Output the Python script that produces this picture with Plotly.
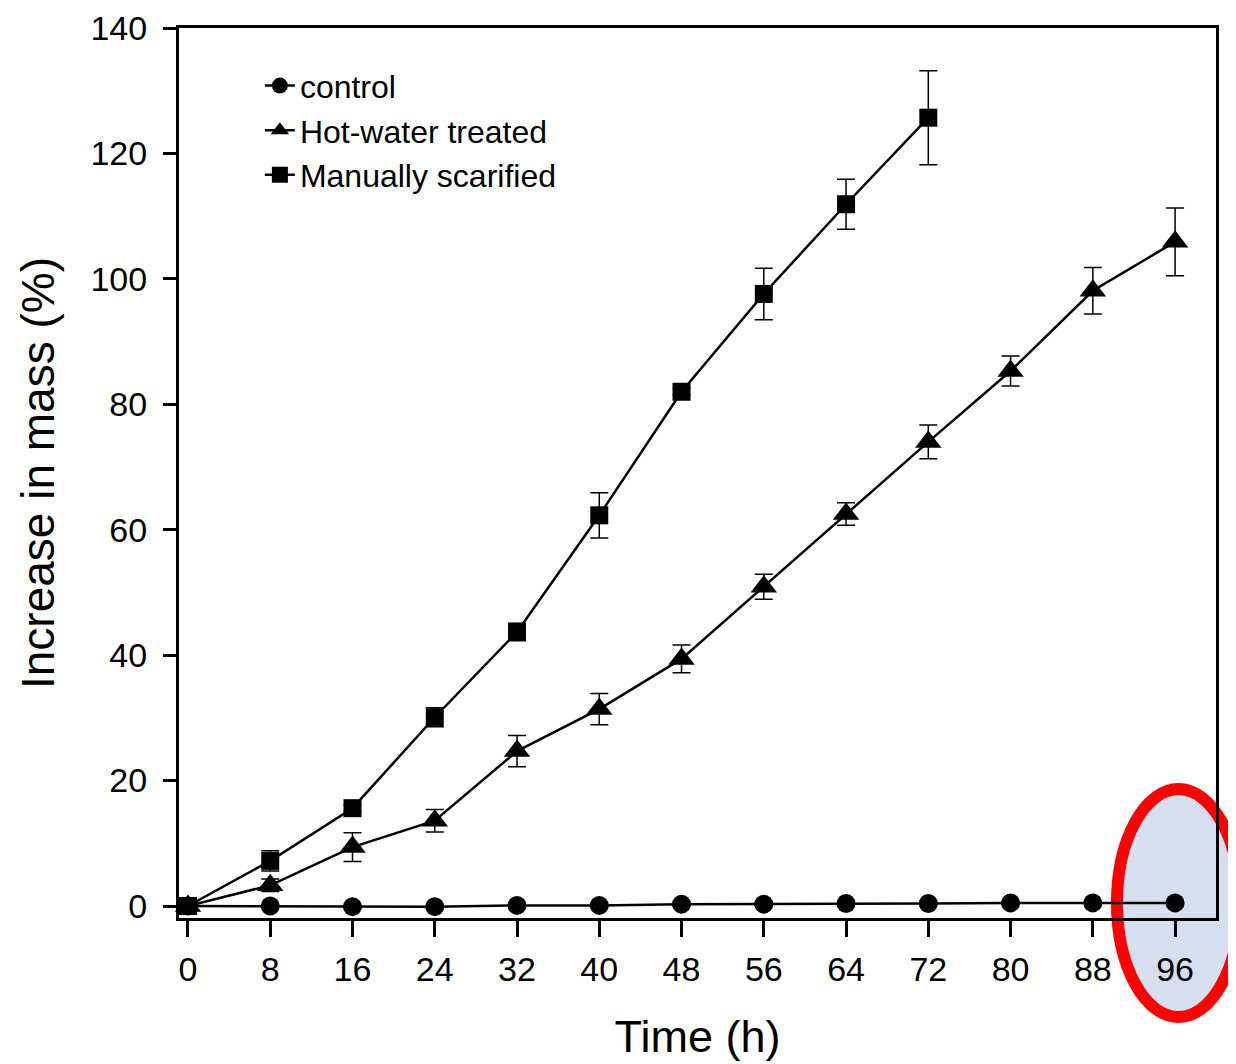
import plotly.graph_objects as go

# ---- data ----
time_h = [0, 8, 16, 24, 32, 40, 48, 56, 64, 72, 80, 88, 96]
x_ticks = [0, 8, 16, 24, 32, 40, 48, 56, 64, 72, 80, 88, 96]
y_ticks = [0, 20, 40, 60, 80, 100, 120, 140]

control = [0.0, 0.0, -0.1, -0.1, 0.1, 0.1, 0.3, 0.3, 0.4, 0.4, 0.5, 0.5, 0.5]
control_err = [0.2, 0.2, 0.2, 0.2, 0.2, 0.2, 0.2, 0.2, 0.2, 0.2, 0.2, 0.2, 0.2]

hot_water = [0.0, 3.3, 9.4, 13.6, 24.7, 31.4, 39.4, 50.9, 62.5, 74.0, 85.3, 98.1, 105.9]
hot_water_err = [0.5, 1.0, 2.3, 1.8, 2.5, 2.5, 2.2, 2.0, 1.8, 2.7, 2.4, 3.7, 5.4]

scarified_time = [0, 8, 16, 24, 32, 40, 48, 56, 64, 72]
scarified = [0.0, 7.2, 15.6, 30.1, 43.7, 62.3, 82.0, 97.6, 111.9, 125.7]
scarified_err = [0.5, 1.6, 0.5, 1.5, 1.4, 3.6, 0.5, 4.1, 4.0, 7.5]

FONT = "Liberation Sans, Arial, sans-serif"

fig = go.Figure()

def add_series(x, y, err, name, symbol, size):
    fig.add_trace(go.Scatter(
        x=x, y=y, name=name, mode="lines+markers",
        line=dict(color="black", width=2.5),
        marker=dict(symbol=symbol, size=size, color="black"),
        error_y=dict(type="data", array=err, visible=True,
                     color="black", thickness=1.5, width=9),
        cliponaxis=False,
    ))

add_series(time_h, control, control_err, "control", "circle", 19)
add_series(time_h, hot_water, hot_water_err, "Hot-water treated", "triangle-up", 23)
add_series(scarified_time, scarified, scarified_err, "Manually scarified", "square", 18)

# highlight ellipse around the 96 h tick
fig.add_shape(type="circle", xref="paper", yref="paper",
              x0=0.9045, x1=1.0232, y0=-0.1112, y1=0.1449,
              line=dict(color="#FF0000", width=12),
              fillcolor="#D5DFEF", layer="below")

axis_common = dict(
    showline=True, linecolor="black", linewidth=3, mirror=True,
    ticks="outside", tickcolor="black", tickwidth=3,
    showgrid=False, zeroline=False, automargin=False,
    tickfont=dict(family=FONT, size=34, color="black"),
)

fig.update_xaxes(
    range=[-0.874, 99.98], tickvals=x_ticks, ticktext=[str(v) for v in x_ticks],
    ticklen=16, ticklabelstandoff=3,
    title=dict(text="Time (h)", font=dict(family=FONT, size=45, color="black"), standoff=34),
    **axis_common)
fig.update_yaxes(
    range=[-1.91, 140.0], tickvals=y_ticks,
    ticklen=13, ticklabelstandoff=9,
    title=dict(text="Increase in mass (%)", font=dict(family=FONT, size=46, color="black"), standoff=22),
    **axis_common)

fig.update_layout(
    width=1236, height=1064,
    margin=dict(l=171, r=28, t=20, b=154),
    paper_bgcolor="white", plot_bgcolor="rgba(0,0,0,0)",
    font=dict(family=FONT, color="black"),
    legend=dict(x=0.078, y=0.966, xanchor="left", yanchor="top",
                font=dict(family=FONT, size=32, color="black"),
                bgcolor="rgba(0,0,0,0)", traceorder="normal"),
    showlegend=True,
)

fig.write_html("out.html")
